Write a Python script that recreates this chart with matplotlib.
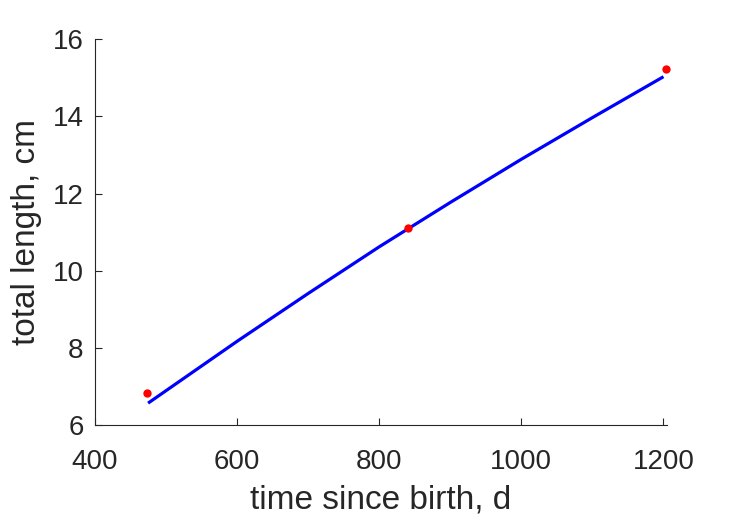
import matplotlib
matplotlib.use("Agg")
import matplotlib.pyplot as plt

obs_t = [474, 840, 1203]
obs_L = [6.84, 11.11, 15.23]
fit_t = [475, 600, 700, 800, 900, 1000, 1100, 1200]
fit_L = [6.57, 8.17, 9.41, 10.62, 11.77, 12.89, 13.97, 15.03]
xticks = [400, 600, 800, 1000, 1200]
yticks = [6, 8, 10, 12, 14, 16]

plt.rcParams['font.family'] = ['Liberation Sans', 'DejaVu Sans']
tc = '#262626'
fig = plt.figure(figsize=(7.29, 5.21), dpi=100)
ax = fig.add_axes([0.130, 0.184, 0.785, 0.7406])
ax.plot(fit_t, fit_L, color='#0000ff', lw=2.3, solid_capstyle='butt')
ax.plot(obs_t, obs_L, 'o', color='#ff0000', ms=6, mec='none', clip_on=False)
ax.set_xlim(400, 1205)
ax.set_ylim(6, 16)
ax.set_xticks(xticks)
ax.set_yticks(yticks)
for s in ['top', 'right']:
    ax.spines[s].set_visible(False)
for s in ['left', 'bottom']:
    ax.spines[s].set_color(tc)
    ax.spines[s].set_linewidth(0.8)
ax.tick_params(direction='in', length=5, width=0.8, colors=tc, labelsize=20)
ax.tick_params(axis='y', pad=8)
ax.tick_params(axis='x', pad=17)
ax.set_xlabel('time since birth, d', fontsize=24, color=tc, labelpad=7)
ax.set_ylabel('total length, cm', fontsize=24, color=tc, labelpad=8)
fig.savefig('out.png', dpi=100)
